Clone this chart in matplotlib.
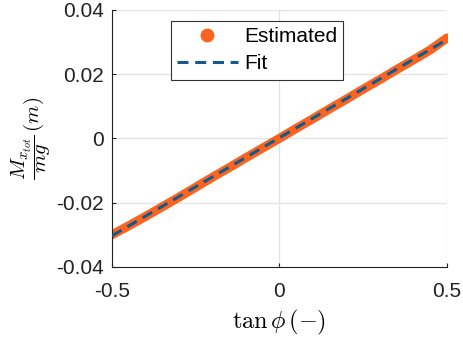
import matplotlib.pyplot as plt

plt.rcParams['font.family'] = ['Liberation Sans', 'DejaVu Sans']
plt.rcParams['mathtext.fontset'] = 'cm'

# estimated moment arm vs tan(phi)
est_x = [-0.50, -0.45, -0.40, -0.35, -0.30, -0.25, -0.20, -0.15, -0.10, -0.05,
         0.00, 0.05, 0.10, 0.15, 0.20, 0.25, 0.30, 0.35, 0.40, 0.45, 0.50]
est_y = [-0.0300, -0.0272, -0.0243, -0.0213, -0.0183, -0.0152, -0.0121, -0.0091,
         -0.0060, -0.0030, 0.0000, 0.0031, 0.0061, 0.0092, 0.0122, 0.0153,
         0.0183, 0.0214, 0.0244, 0.0275, 0.0312]

# linear fit
fit_x = [-0.5, 0.5]
fit_y = [-0.0303, 0.0307]

orange = '#fa6420'
blue = '#125a8c'

fig = plt.figure(figsize=(4.63, 3.40), dpi=100)
ax = fig.add_axes([0.242, 0.215, 0.723, 0.756])

ax.plot(est_x, est_y, color=orange, lw=6.5, solid_capstyle='round', zorder=2)
ax.plot(est_x[-1:], est_y[-1:], 'o', color=orange, ms=6, zorder=2)
ax.plot([], [], 'o', color=orange, ms=9, label='Estimated')
ax.plot(fit_x, fit_y, color=blue, lw=2.2, dashes=(3.6, 2.2), label='Fit', zorder=3)

ax.set_xlim(-0.5, 0.5)
ax.set_ylim(-0.04, 0.04)
ax.set_xticks([-0.5, 0, 0.5])
ax.set_xticklabels(['-0.5', '0', '0.5'])
ax.set_yticks([-0.04, -0.02, 0, 0.02, 0.04])
ax.set_yticklabels(['-0.04', '-0.02', '0', '0.02', '0.04'])
ax.tick_params(direction='in', length=3, labelsize=15, colors='#222222')
ax.tick_params(axis='x', pad=11)
ax.tick_params(axis='y', pad=6)
ax.grid(True, color='#e3e3e3', lw=0.9)
ax.set_axisbelow(True)
for s in ['top', 'right']:
    ax.spines[s].set_visible(False)
for s in ['left', 'bottom']:
    ax.spines[s].set_color('#222222')

ax.set_xlabel(r'$\tan\phi\,(-)$', fontsize=17.5, labelpad=5)
ax.set_ylabel(r'$\dfrac{M_{x_{tot}}}{mg}\,(m)$', fontsize=15, labelpad=2)

leg = ax.legend(loc='upper left', bbox_to_anchor=(0.176, 0.957), borderaxespad=0,
                fontsize=15, fancybox=False, framealpha=1, edgecolor='#333333',
                handlelength=2.9, handletextpad=0.3, borderpad=0.3,
                labelspacing=0.4)
leg.get_frame().set_linewidth(0.8)

fig.savefig('out.png', dpi=100)
